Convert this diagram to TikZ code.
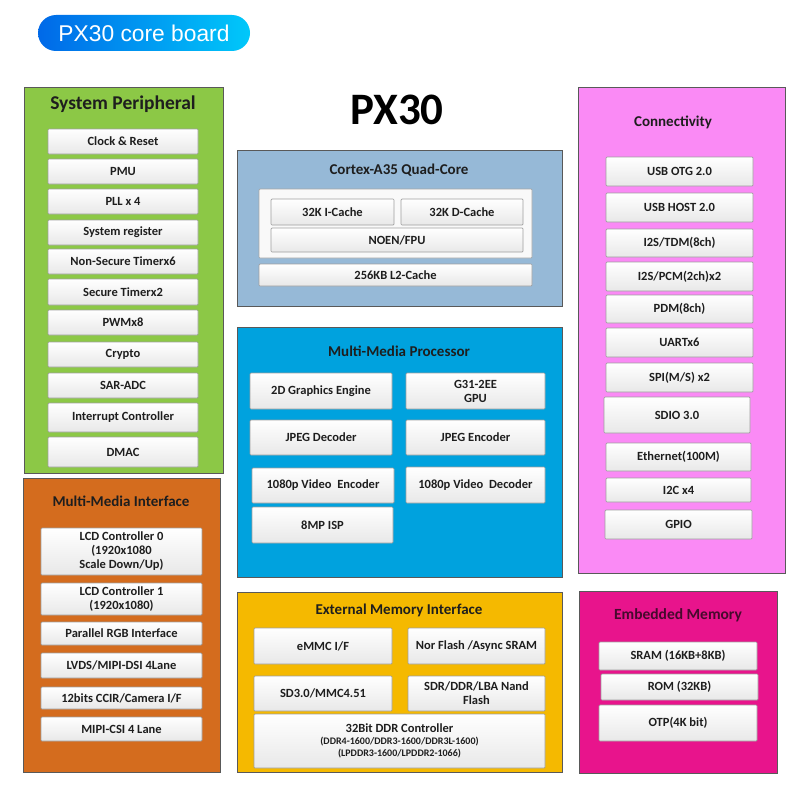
\documentclass[tikz,border=0pt]{standalone}
\usepackage{fontspec}
\setmainfont{Carlito}
\newfontfamily\pillfont{Liberation Sans}
\definecolor{spgreen}{RGB}{140,200,70}
\definecolor{mmiorange}{RGB}{212,108,30}
\definecolor{cortexblue}{RGB}{150,185,215}
\definecolor{mmpblue}{RGB}{0,162,222}
\definecolor{emigold}{RGB}{245,185,0}
\definecolor{connpink}{RGB}{250,138,245}
\definecolor{empink}{RGB}{232,20,140}
\definecolor{pillL}{RGB}{0,105,232}
\definecolor{pillR}{RGB}{0,200,250}
\definecolor{txt}{RGB}{30,30,30}
\definecolor{emtxt}{RGB}{70,10,45}
\newcommand\bx[6]{\node[blk, minimum width={(#4-#2)*1pt}, minimum height={(#5-#3)*1pt}] (#1) at ({(#2+#4)/2},{(#3+#5)/2}) {#6};}
\newcommand\pnl[6]{\node[panel, fill=#6, minimum width={(#4-#2)*1pt}, minimum height={(#5-#3)*1pt}] (#1) at ({(#2+#4)/2},{(#3+#5)/2}) {};}
\tikzset{
  blk/.style={draw=gray!75, line width=0.7pt, top color=white, bottom color=gray!18, rounded corners=1pt,
    inner sep=0pt, align=center, text=txt, font=\fontsize{12.5}{14}\selectfont\bfseries},
  panel/.style={draw=gray!70!black, line width=0.8pt, inner sep=0pt},
  ptitle/.style={font=\fontsize{15}{17}\selectfont\bfseries, text=txt},
}
\begin{document}
\begin{tikzpicture}[x=1pt,y=-1pt]
\useasboundingbox[fill=white] (0,0) rectangle (800,800);
% title pill
\node[rounded corners=18pt, left color=pillL, right color=pillR, minimum width=212pt, minimum height=36pt, inner sep=0pt,
  text=white, font=\pillfont\fontsize{22.8}{24}\selectfont] (pill) at (144,33) {PX30 core board};
\node[font=\fontsize{45}{48}\selectfont\bfseries, text=black] (px30) at (397,110) {PX30};

% System Peripheral
\pnl{sp}{24}{87}{223}{473}{spgreen}
\node[ptitle, font=\fontsize{19.5}{22}\selectfont\bfseries] (spt) at (123,104) {System Peripheral};
\bx{clk}{48}{129}{198}{154}{Clock \& Reset}
\bx{pmu}{48}{159}{198}{184}{PMU}
\bx{pll}{48}{189}{198}{214}{PLL x 4}
\bx{sreg}{48}{220}{198}{245}{System register}
\bx{nst}{48}{249}{198}{274}{Non-Secure Timerx6}
\bx{st}{48}{279}{198}{305}{Secure Timerx2}
\bx{pwm}{48}{310}{198}{335}{PWMx8}
\bx{cry}{48}{342}{198}{367}{Crypto}
\bx{sar}{48}{373}{198}{398}{SAR-ADC}
\bx{irq}{48}{403}{198}{432}{Interrupt Controller}
\bx{dmac}{48}{437}{198}{467}{DMAC}

% Multi-Media Interface
\pnl{mmi}{23}{478}{220}{772}{mmiorange}
\node[ptitle] (mmit) at (121,501) {Multi-Media Interface};
\bx{lcd0}{41}{528}{202}{575}{LCD Controller 0\\(1920x1080\\Scale Down/Up)}
\bx{lcd1}{41}{583}{202}{615}{LCD Controller 1\\(1920x1080)}
\bx{prgb}{41}{622}{202}{645}{Parallel RGB Interface}
\bx{lvds}{41}{653}{202}{678}{LVDS/MIPI-DSI 4Lane}
\bx{ccir}{41}{687}{202}{709}{12bits CCIR/Camera I/F}
\bx{csi}{41}{717}{202}{741}{MIPI-CSI 4 Lane}

% Cortex
\pnl{cortex}{237}{150}{562}{306}{cortexblue}
\node[ptitle] (cortext) at (399,170) {Cortex-A35 Quad-Core};
\node[draw=gray!70, line width=0.7pt, fill=gray!5, rounded corners=1pt, minimum width=273pt, minimum height=69pt, inner sep=0pt] (core) at (395.5,223.5) {};
\bx{icache}{271}{199}{394}{225}{32K I-Cache}
\bx{dcache}{401}{199}{523}{225}{32K D-Cache}
\bx{fpu}{271}{228}{523}{252}{NOEN/FPU}
\bx{l2}{259}{264}{532}{286}{256KB L2-Cache}

% Multi-Media Processor
\pnl{mmp}{237}{327}{562}{577}{mmpblue}
\node[ptitle] (mmpt) at (399,351) {Multi-Media Processor};
\bx{g2d}{250}{373}{392}{409}{2D Graphics Engine}
\bx{gpu}{406}{373}{545}{409}{G31-2EE\\GPU}
\bx{jdec}{250}{420}{392}{455}{JPEG Decoder}
\bx{jenc}{406}{420}{545}{455}{JPEG Encoder}
\bx{venc}{252}{468}{394}{503}{1080p Video\ \ Encoder}
\bx{vdec}{406}{467}{545}{503}{1080p Video\ \ Decoder}
\bx{isp}{252}{507}{393}{543}{8MP ISP}

% External Memory Interface
\pnl{emi}{237}{592}{562}{772}{emigold}
\node[ptitle] (emit) at (399,610) {External Memory Interface};
\bx{emmc}{254}{628}{392}{664}{eMMC I/F}
\bx{nor}{408}{628}{545}{664}{Nor Flash /Async SRAM}
\bx{sd}{254}{676}{392}{711}{SD3.0/MMC4.51}
\bx{nand}{408}{676}{545}{711}{SDR/DDR/LBA Nand\\Flash}
\bx{ddr}{254}{714}{545}{768}{32Bit DDR Controller\\[-1.5pt]{\fontsize{10}{11}\selectfont (DDR4-1600/DDR3-1600/DDR3L-1600)}\\[-2pt]{\fontsize{10}{11}\selectfont (LPDDR3-1600/LPDDR2-1066)}}

% Connectivity
\pnl{conn}{578}{87}{785}{573}{connpink}
\node[ptitle] (connt) at (673,122) {Connectivity};
\bx{otg}{606}{157}{753}{186}{USB OTG 2.0}
\bx{host}{606}{193}{753}{222}{USB HOST 2.0}
\bx{tdm}{606}{229}{753}{257}{I2S/TDM(8ch)}
\bx{pcm}{606}{262}{753}{291}{I2S/PCM(2ch)x2}
\bx{pdm}{606}{295}{753}{323}{PDM(8ch)}
\bx{uart}{606}{328}{753}{357}{UARTx6}
\bx{spi}{606}{363}{753}{392}{SPI(M/S) x2}
\bx{sdio}{604}{397}{750}{433}{SDIO 3.0}
\bx{eth}{606}{443}{751}{471}{Ethernet(100M)}
\bx{i2c}{606}{478}{751}{502}{I2C x4}
\bx{gpio}{605}{510}{752}{539}{GPIO}

% Embedded Memory
\pnl{em}{579}{591}{777}{773}{empink}
\node[ptitle, font=\fontsize{15.5}{17}\selectfont\bfseries, text=emtxt] (emt) at (678,615) {Embedded Memory};
\bx{sram}{599}{642}{757}{670}{SRAM (16KB+8KB)}
\bx{rom}{601}{674}{758}{700}{ROM (32KB)}
\bx{otp}{599}{705}{757}{741}{OTP(4K bit)}
\end{tikzpicture}
\end{document}
